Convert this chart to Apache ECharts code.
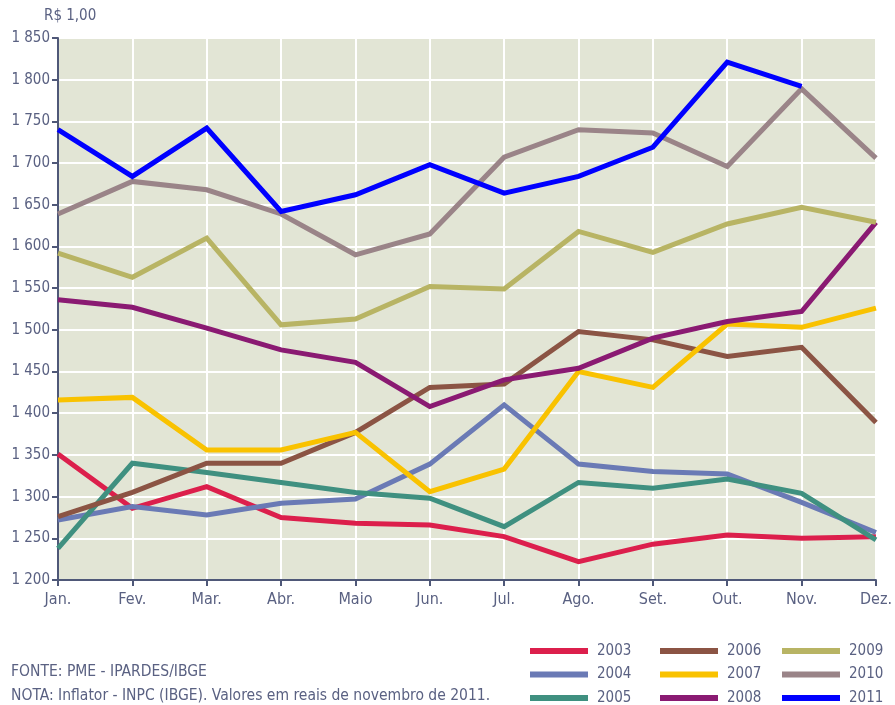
<!DOCTYPE html>
<html><head><meta charset="utf-8">
<script src="https://cdn.jsdelivr.net/npm/echarts@6/dist/echarts.min.js"></script>
<style>html,body{margin:0;padding:0;background:#fff}#c{width:895px;height:705px}</style>
</head><body><div id="c"></div>
<script>
var months = ['Jan.','Fev.','Mar.','Abr.','Maio','Jun.','Jul.','Ago.','Set.','Out.','Nov.','Dez.'];
var years = ['2003','2004','2005','2006','2007','2008','2009','2010','2011'];
var v2003 = [1351,1286,1312,1275,1268,1266,1252,1222,1243,1254,1250,1252];
var v2004 = [1272,1288,1278,1292,1297,1339,1410,1339,1330,1327,1293,1257];
var v2005 = [1238,1340,1329,1317,1305,1298,1264,1317,1310,1321,1304,1248];
var v2006 = [1276,1305,1340,1340,1377,1431,1435,1498,1488,1468,1479,1389];
var v2007 = [1416,1419,1356,1356,1377,1306,1333,1450,1431,1507,1503,1526];
var v2008 = [1536,1527,1502,1476,1461,1408,1440,1454,1490,1510,1522,1629];
var v2009 = [1592,1563,1610,1506,1513,1552,1549,1618,1593,1627,1647,1629];
var v2010 = [1639,1678,1668,1639,1590,1615,1707,1740,1736,1696,1789,1706];
var v2011 = [1740,1684,1742,1642,1662,1698,1664,1684,1719,1821,1792,null];
var colors = ['#dc1f4c','#6a7ab5','#3f9080','#8b5444','#f9c200','#8a1a72','#b8b464','#9a8488','#0000ff'];
var values = [v2003,v2004,v2005,v2006,v2007,v2008,v2009,v2010,v2011];

var FONT = "'Liberation Sans Narrow','DejaVu Sans Condensed','Roboto',sans-serif";
var TXT = '#5a6182';
var AX = '#4f5878';

var series = years.map(function(y,i){
  return {name:y,type:'line',data:values[i],symbol:'none',
    lineStyle:{width:5,color:colors[i],cap:'butt',join:'miter'},
    itemStyle:{color:colors[i]},connectNulls:false};
});

function leg(list,left){
  return {data:list,orient:'vertical',left:left,top:643,height:90,padding:0,itemWidth:58,itemHeight:6,itemGap:7.5,
    icon:'rect',textStyle:{color:TXT,fontFamily:FONT,fontSize:15,lineHeight:16,padding:[0,0,0,4]},selectedMode:false};
}

var chart = echarts.init(document.getElementById('c'),null,{renderer:'canvas'});
chart.setOption({
  animation:false,
  color:colors,
  textStyle:{fontFamily:FONT},
  grid:{left:58,right:14,top:38,bottom:125,show:true,backgroundColor:'#e2e5d5',borderWidth:0},
  legend:[leg(['2003','2004','2005'],530),leg(['2006','2007','2008'],660),leg(['2009','2010','2011'],782)],
  graphic:[
    {type:'text',left:44,top:9,style:{text:'R$ 1,00',fill:TXT,font:'15px '+FONT}},
    {type:'text',left:11,top:664,style:{text:'FONTE: PME - IPARDES/IBGE',fill:TXT,font:'15.5px '+FONT}},
    {type:'text',left:11,top:688,style:{text:'NOTA: Inflator - INPC (IBGE). Valores em reais de novembro de 2011.',fill:TXT,font:'15.5px '+FONT}}
  ],
  xAxis:{type:'category',data:months,boundaryGap:false,
    axisLine:{lineStyle:{color:AX,width:2}},
    axisTick:{show:true,length:6,lineStyle:{color:AX,width:2},alignWithLabel:true},
    axisLabel:{color:TXT,fontSize:16,margin:12,interval:0,fontFamily:FONT},
    splitLine:{show:true,lineStyle:{color:'#ffffff',width:2}}},
  yAxis:{type:'value',min:1200,max:1850,interval:50,
    axisLine:{show:true,lineStyle:{color:AX,width:2}},
    axisTick:{show:true,length:6,lineStyle:{color:AX,width:2}},
    axisLabel:{color:TXT,fontSize:15,margin:8,fontFamily:FONT,
      formatter:function(v){var s=String(v);return s.length>3?s.slice(0,s.length-3)+' '+s.slice(-3):s;}},
    splitLine:{show:true,lineStyle:{color:'#ffffff',width:2}}},
  series:series
});
</script></body></html>
